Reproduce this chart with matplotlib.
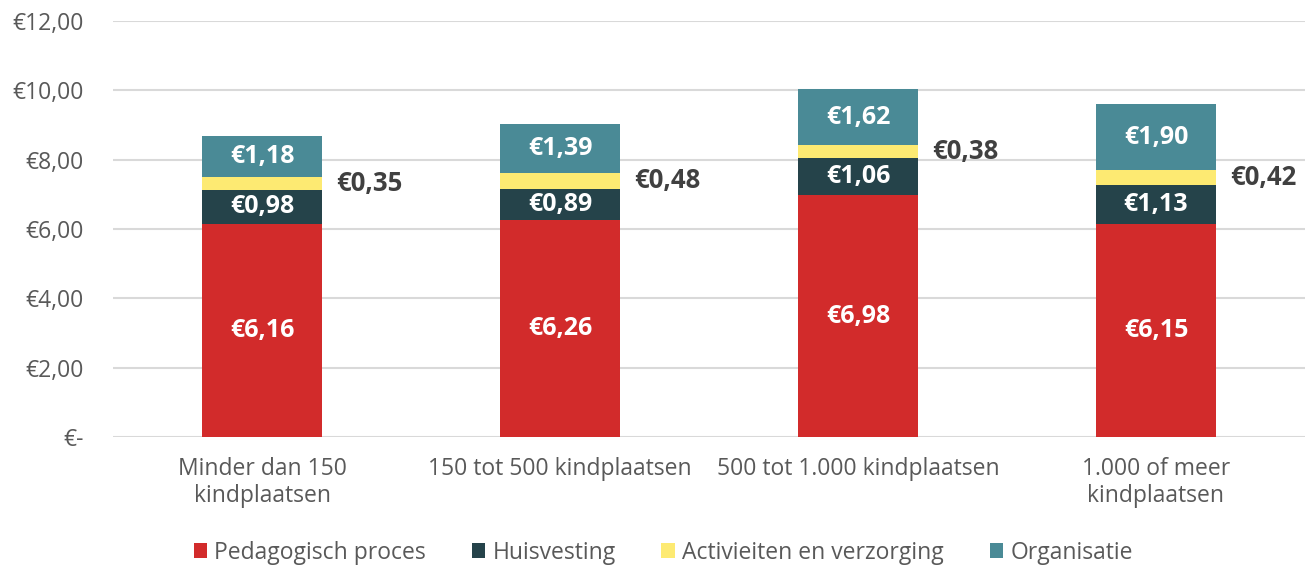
import matplotlib
matplotlib.use("Agg")
import matplotlib.pyplot as plt
import numpy as np

categories = ["Minder dan 150\nkindplaatsen", "150 tot 500 kindplaatsen",
              "500 tot 1.000 kindplaatsen", "1.000 of meer\nkindplaatsen"]
series_names = ["Pedagogisch proces", "Huisvesting", "Activieiten en verzorging", "Organisatie"]
pedagogisch = [6.16, 6.26, 6.98, 6.15]
huisvesting = [0.98, 0.89, 1.06, 1.13]
activiteiten = [0.35, 0.48, 0.38, 0.42]
organisatie = [1.18, 1.39, 1.62, 1.90]
yticks = [0, 2, 4, 6, 8, 10, 12]
ytick_labels = ["€-", "€2,00", "€4,00", "€6,00", "€8,00", "€10,00", "€12,00"]

colors = ["#D22B2B", "#25434A", "#FDEA72", "#4A8A96"]
label_colors = ["white", "white", "#404040", "white"]

plt.rcParams['font.family'] = ['Open Sans', 'DejaVu Sans']

fig = plt.figure(figsize=(13.08, 5.67), dpi=100)
ax = fig.add_axes([0.0864, 0.229, 0.9113, 0.734])

x = np.arange(len(categories))
width = 0.4
data = [pedagogisch, huisvesting, activiteiten, organisatie]
bottom = np.zeros(len(categories))
for vals, name, col, lc in zip(data, series_names, colors, label_colors):
    vals = np.array(vals)
    ax.bar(x, vals, width, bottom=bottom, color=col, label=name, zorder=3)
    for xi, b, v in zip(x, bottom, vals):
        txt = "€" + f"{v:.2f}".replace(".", ",")
        if col == "#FDEA72":
            ax.text(xi + width / 2 + 0.05, b + v / 2, txt, ha="left", va="center",
                    color="#404040", fontsize=18.5, fontweight="bold", zorder=4)
        else:
            ax.text(xi, b + v / 2, txt, ha="center", va="center",
                    color=lc, fontsize=18, fontweight="bold", zorder=4)
    bottom += vals

ax.set_xlim(-0.5, len(categories) - 0.5)
ax.set_ylim(0, 12)
ax.set_yticks(yticks)
ax.set_yticklabels(ytick_labels, fontsize=16.5, color="#595959")
ax.set_xticks(x)
ax.set_xticklabels(categories, fontsize=16.5, color="#595959", linespacing=1.2)
ax.tick_params(length=0)
ax.tick_params(axis="y", pad=21)
ax.tick_params(axis="x", pad=14)
ax.grid(axis="y", color="#D9D9D9", linewidth=1.5, zorder=0)
for s in ax.spines.values():
    s.set_visible(False)

leg = fig.legend(loc="lower center", bbox_to_anchor=(0.507, -0.032), ncol=4, frameon=False,
                 fontsize=16.5, handlelength=0.6, handleheight=0.6, handletextpad=0.3,
                 columnspacing=2.0)
for t in leg.get_texts():
    t.set_color("#595959")

fig.savefig("out.png", dpi=100)
